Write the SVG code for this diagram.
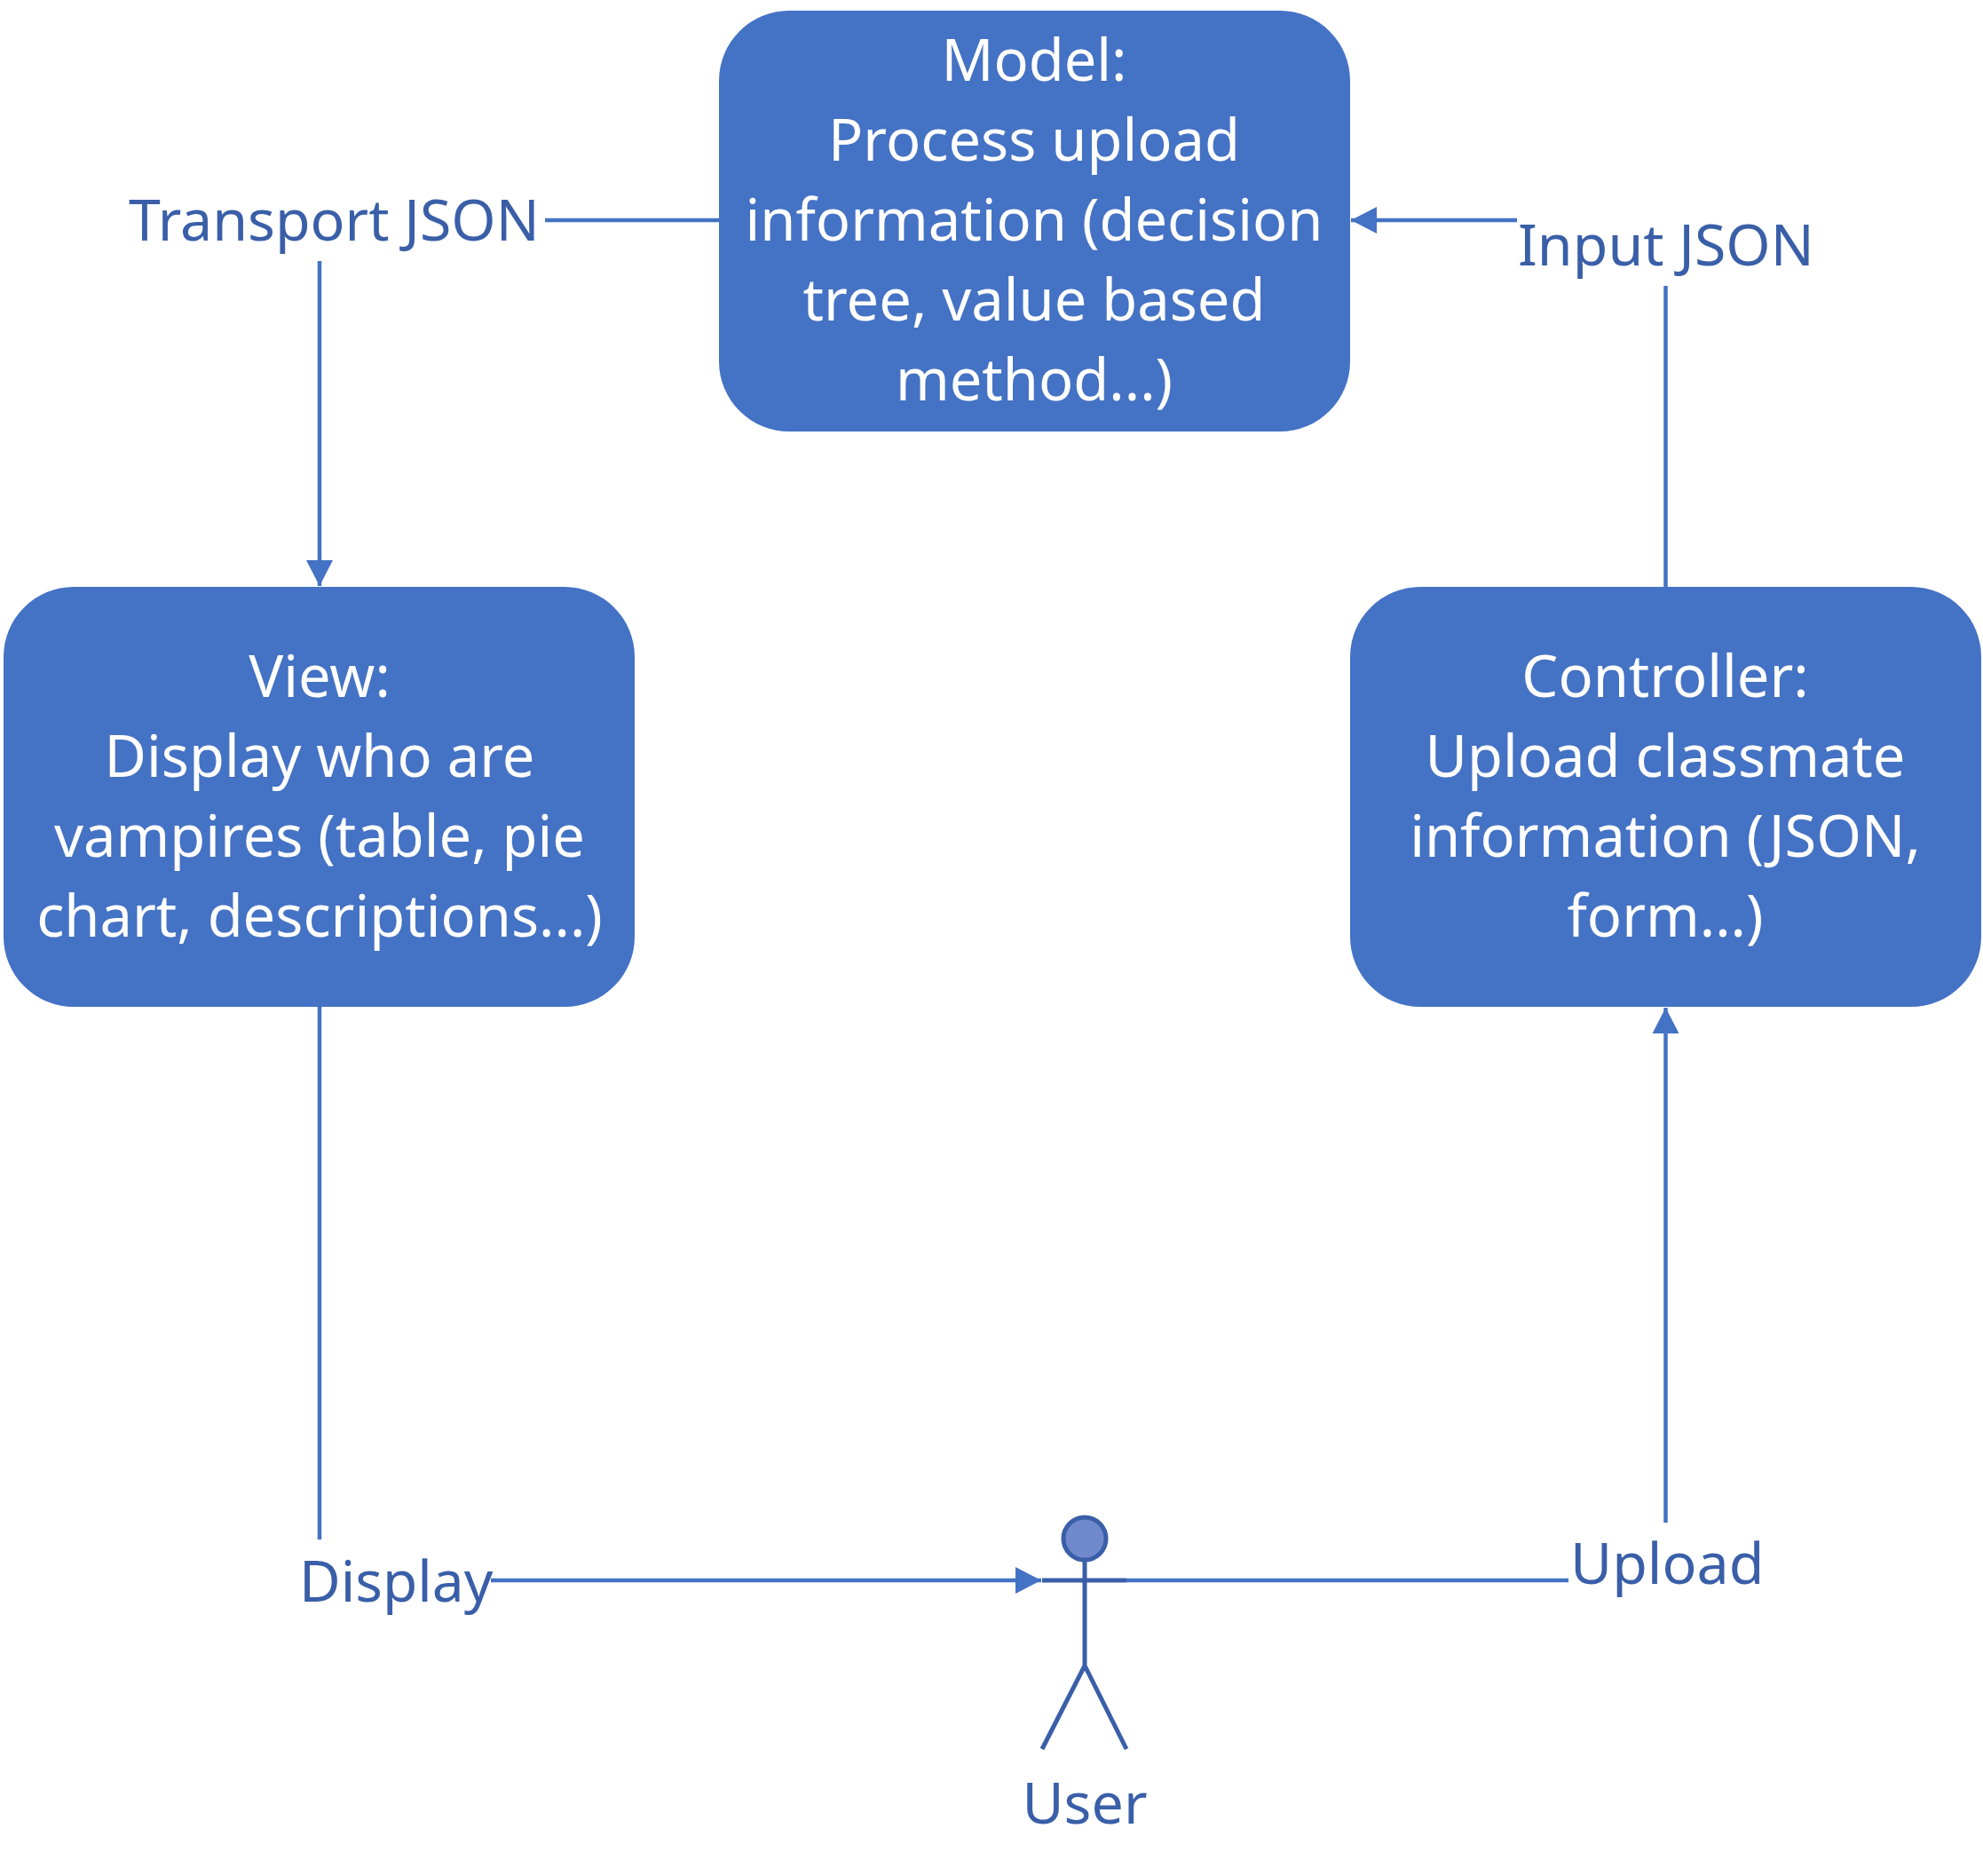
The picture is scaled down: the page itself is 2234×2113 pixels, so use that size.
<svg xmlns="http://www.w3.org/2000/svg" width="2234" height="2113" viewBox="0 0 2234 2113">
<defs>
<style>
.box{fill:#4472C4}
.boxtext{fill:#fff;font:65px "Noto Sans","Open Sans",sans-serif;text-anchor:middle}
.label{fill:#3A5FA8;font:64.500px "Noto Sans","Open Sans",sans-serif}
.conn{fill:none;stroke:#4472C4;stroke-width:4.5}
.actor{fill:none;stroke:#3A5FA8;stroke-width:5}
</style>
<marker id="arrow" markerUnits="userSpaceOnUse" markerWidth="29" markerHeight="30" refX="29" refY="15" orient="auto"><path d="M0 0L29 15L0 30Z" fill="#4472C4"/></marker>
</defs>
<rect width="2234" height="2113" fill="#fff"/>
<g id="connectors">
<line class="conn" x1="614" y1="248" x2="810" y2="248"/>
<line class="conn" x1="360" y1="294" x2="360" y2="660" marker-end="url(#arrow)"/>
<line class="conn" x1="1709" y1="248" x2="1522" y2="248" marker-end="url(#arrow)"/>
<line class="conn" x1="1876.500" y1="322" x2="1876.500" y2="661"/>
<line class="conn" x1="360" y1="1134" x2="360" y2="1734"/>
<line class="conn" x1="553" y1="1780" x2="1173" y2="1780" marker-end="url(#arrow)"/>
<line class="conn" x1="1269" y1="1780" x2="1767" y2="1780"/>
<line class="conn" x1="1876.500" y1="1715" x2="1876.500" y2="1135" marker-end="url(#arrow)"/>
</g>
<g id="model">
<rect class="box" x="810" y="12" width="711" height="474" rx="79"/>
<text class="boxtext" x="1165" y="91">Model:</text>
<text class="boxtext" x="1165" y="181">Process upload</text>
<text class="boxtext" x="1165" y="271">information (decision</text>
<text class="boxtext" x="1165" y="361">tree, value based</text>
<text class="boxtext" x="1165" y="451">method...)</text>
</g>
<g id="view">
<rect class="box" x="4" y="661" width="711" height="473" rx="79"/>
<text class="boxtext" x="360" y="785">View:</text>
<text class="boxtext" x="360" y="875">Display who are</text>
<text class="boxtext" x="360" y="965">vampires (table, pie</text>
<text class="boxtext" x="360" y="1055">chart, descriptions...)</text>
</g>
<g id="controller">
<rect class="box" x="1521" y="661" width="711" height="473" rx="79"/>
<text class="boxtext" x="1876" y="785">Controller:</text>
<text class="boxtext" x="1876" y="875">Upload classmate</text>
<text class="boxtext" x="1876" y="965">information (JSON,</text>
<text class="boxtext" x="1876" y="1055">form...)</text>
</g>
<g id="user">
<circle cx="1222" cy="1733" r="24" fill="#7089CC" stroke="#3A5FA8" stroke-width="5"/>
<path class="actor" d="M1222 1757V1876M1174 1780H1269M1174 1970L1222 1876L1269 1970"/>
<text class="label" x="1222" y="2054" text-anchor="middle">User</text>
</g>
<g id="labels">
<text class="label" x="145" y="271">Transport JSON</text>
<text class="label" x="1710" y="299">Input JSON</text>
<text class="label" x="337" y="1804" style="font-size:64px">Display</text>
<text class="label" x="1769" y="1784">Upload</text>
</g>
</svg>
